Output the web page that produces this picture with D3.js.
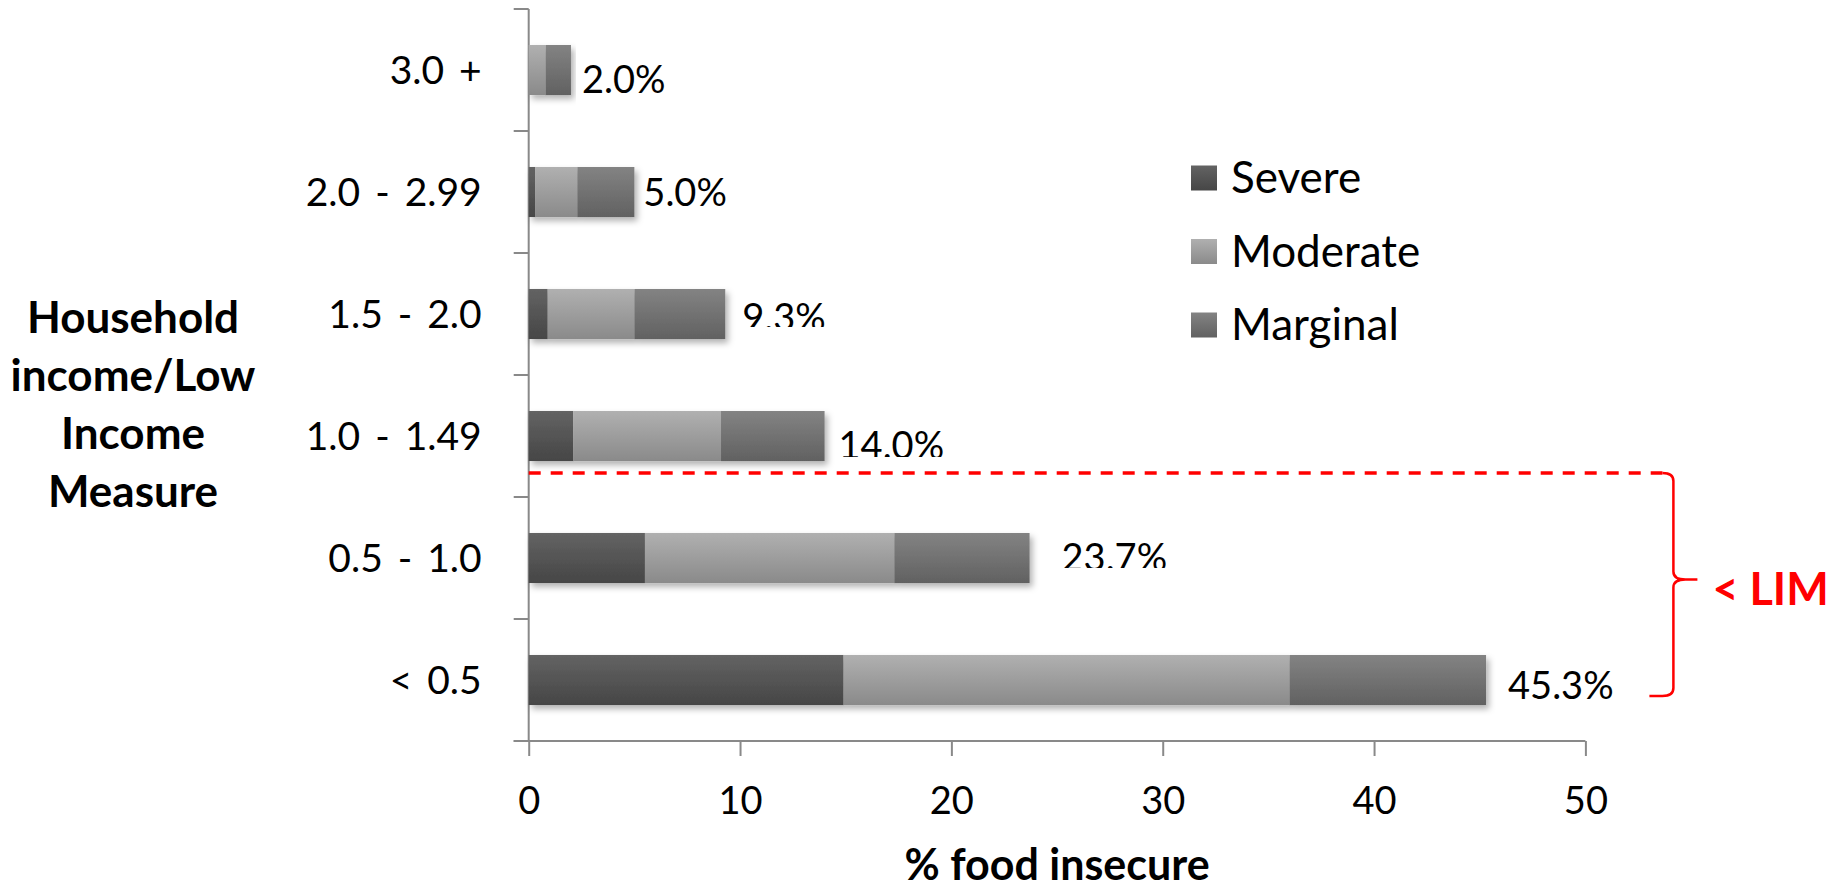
<!DOCTYPE html>
<html>
<head>
<meta charset="utf-8">
<script src="https://cdn.jsdelivr.net/npm/d3@7/dist/d3.min.js"></script>
<style>
  html, body { margin: 0; padding: 0; background: #fff; }
  svg { display: block; font-family: Lato, "Open Sans", sans-serif; }
</style>
</head>
<body>
<svg id="chart" width="1839" height="889"></svg>
<script>
// Household income relative to the Low Income Measure (top to bottom)
const categories = ["3.0 +", "2.0 - 2.99", "1.5 - 2.0", "1.0 - 1.49", "0.5 - 1.0", "< 0.5"];
const seriesNames = ["Severe", "Moderate", "Marginal"];
// % of households in each food-insecurity level
const severe   = [0.0, 0.3, 0.9, 2.1, 5.5, 14.9];
const moderate = [0.8, 2.0, 4.1, 7.0, 11.8, 21.1];
const marginal = [1.2, 2.7, 4.3, 4.9, 6.4, 9.3];
// total % food insecure, printed next to each bar
const totals = [2.0, 5.0, 9.3, 14.0, 23.7, 45.3];
const xTicks = [0, 10, 20, 30, 40, 50];

const svg = d3.select("#chart");
const axisColor = "#898989";

const x = d3.scaleLinear().domain([0, 50]).range([528.7, 1585.4]);
const y = d3.scaleBand().domain(categories).range([9, 741])
  .paddingInner(0.59).paddingOuter(0.295);

const rows = categories.map((c, i) => ({
  cat: c, Severe: severe[i], Moderate: moderate[i], Marginal: marginal[i], total: totals[i]
}));
const stacked = d3.stack().keys(seriesNames)(rows);

// gradient fills (light on top, darker at the bottom)
const defs = svg.append("defs");
const grad = {
  Severe:   ["#636363", "#464646"],
  Moderate: ["#b0b0b0", "#8a8a8a"],
  Marginal: ["#838383", "#616161"]
};
seriesNames.forEach(k => {
  const g = defs.append("linearGradient").attr("id", "g-" + k)
    .attr("x1", 0).attr("y1", 0).attr("x2", 0).attr("y2", 1);
  g.append("stop").attr("offset", "0%").attr("stop-color", grad[k][0]);
  g.append("stop").attr("offset", "100%").attr("stop-color", grad[k][1]);
});
const shadow = defs.append("filter").attr("id", "shadow")
  .attr("x", "-5%").attr("y", "-20%").attr("width", "115%").attr("height", "160%");
shadow.append("feDropShadow").attr("dx", 3).attr("dy", 4).attr("stdDeviation", 3)
  .attr("flood-color", "#000").attr("flood-opacity", 0.3);

// axes
const plotLeft = x.range()[0], plotRight = x.range()[1];
const plotTop = y.range()[0], plotBottom = y.range()[1];
const tickLen = 15;

// x axis
const xAxis = d3.axisBottom(x).tickValues(xTicks).tickSize(tickLen).tickPadding(31)
  .tickFormat(d3.format("d"));
const xg = svg.append("g").attr("transform", `translate(0,${plotBottom})`).call(xAxis);
xg.select(".domain").remove();
xg.selectAll(".tick line").attr("stroke", axisColor).attr("stroke-width", 2);
xg.selectAll(".tick text").attr("fill", "#000").style("font-size", "38px")
  .style("font-family", "Lato");
svg.append("line").attr("x1", plotLeft - tickLen).attr("x2", plotRight)
  .attr("y1", plotBottom).attr("y2", plotBottom)
  .attr("stroke", axisColor).attr("stroke-width", 2);

// y axis: category labels plus tick marks between categories
const yAxis = d3.axisLeft(y).tickSize(0).tickPadding(47);
const yg = svg.append("g").attr("transform", `translate(${plotLeft},0)`).call(yAxis);
yg.select(".domain").remove();
yg.selectAll(".tick text").attr("fill", "#000").style("font-size", "39px")
  .style("font-family", "Lato").style("word-spacing", "5px").attr("dy", "0.36em");
svg.append("line").attr("x1", plotLeft).attr("x2", plotLeft)
  .attr("y1", plotTop).attr("y2", plotBottom)
  .attr("stroke", axisColor).attr("stroke-width", 2);
const bounds = d3.range(categories.length + 1).map(i => plotTop + i * y.step());
svg.append("g").selectAll("line").data(bounds).join("line")
  .attr("x1", plotLeft - tickLen).attr("x2", plotLeft)
  .attr("y1", d => d).attr("y2", d => d)
  .attr("stroke", axisColor).attr("stroke-width", 2);

// stacked bars
const barRows = svg.append("g").selectAll("g.row").data(rows).join("g")
  .attr("class", "row").attr("filter", "url(#shadow)");
barRows.each(function(r, i) {
  const g = d3.select(this);
  stacked.forEach(s => {
    const seg = s[i];
    if (seg[1] - seg[0] <= 0) return;
    g.append("rect")
      .attr("x", x(seg[0])).attr("y", y(r.cat))
      .attr("width", x(seg[1]) - x(seg[0])).attr("height", y.bandwidth())
      .attr("fill", `url(#g-${s.key})`);
  });
});

// total labels
const labelSize = 38;
const capH = labelSize * 0.716;
const labelDx = [11, 9, 17, 14, 32, 22];
const labelTop = [21, 12, 15, 21, 11, 17];
const labelVisible = [null, null, 23, 25, 24, null];
const fmt = d => d3.format(".1f")(d) + "%";
rows.forEach((r, i) => {
  const lx = x(r.total) + labelDx[i];
  const top = y(r.cat) + labelTop[i];
  const t = svg.append("text")
    .attr("x", lx).attr("y", top + capH)
    .style("font-size", labelSize + "px").attr("fill", "#000")
    .text(fmt(r.total));
  if (labelVisible[i] != null) {
    const id = "clip-" + i;
    defs.append("clipPath").attr("id", id).append("rect")
      .attr("x", lx - 5).attr("y", top - 20)
      .attr("width", 200).attr("height", 20 + labelVisible[i]);
    t.attr("clip-path", `url(#${id})`);
  }
});

// legend
const legend = svg.append("g").attr("transform", "translate(1191,0)");
const legendY = [178, 251.5, 325];
seriesNames.forEach((k, i) => {
  legend.append("rect").attr("x", 0).attr("y", legendY[i] - 12.5)
    .attr("width", 26).attr("height", 25).attr("fill", `url(#g-${k})`);
  legend.append("text").attr("x", 40).attr("y", legendY[i] + 15)
    .style("font-size", "44px").attr("fill", "#000").text(k);
});

// axis titles
const yTitle = svg.append("text").attr("text-anchor", "middle")
  .style("font-size", "44px").style("font-weight", "bold").attr("fill", "#000");
["Household", "income/Low", "Income", "Measure"].forEach((line, i) => {
  yTitle.append("tspan").attr("x", 133).attr("y", 333 + i * 58).text(line);
});
svg.append("text").attr("x", (plotLeft + plotRight) / 2).attr("y", 880)
  .attr("text-anchor", "middle").style("font-size", "43px").style("font-weight", "bold")
  .attr("fill", "#000").text("% food insecure");

// < LIM annotation: dashed divider under the 1.0 - 1.49 bar and a brace over the two lowest rows
const red = "#ff0000";
const lineY = y("1.0 - 1.49") + y.bandwidth() + 12;
const braceX = plotRight + 88;
const braceBottom = y("< 0.5") + y.bandwidth() - 9;
const braceMid = (lineY + braceBottom) / 2 - 5;
svg.append("line").attr("x1", plotLeft).attr("x2", braceX - 11)
  .attr("y1", lineY).attr("y2", lineY)
  .attr("stroke", red).attr("stroke-width", 3.5).attr("stroke-dasharray", "12,10");
const p = d3.path();
p.moveTo(braceX - 11, lineY);
p.quadraticCurveTo(braceX, lineY, braceX, lineY + 8);
p.lineTo(braceX, braceMid - 8);
p.quadraticCurveTo(braceX, braceMid, braceX + 12, braceMid);
p.lineTo(braceX + 24, braceMid);
p.moveTo(braceX + 12, braceMid);
p.quadraticCurveTo(braceX, braceMid, braceX, braceMid + 8);
p.lineTo(braceX, braceBottom - 8);
p.quadraticCurveTo(braceX, braceBottom, braceX - 11, braceBottom);
p.lineTo(braceX - 24, braceBottom);
svg.append("path").attr("d", p.toString()).attr("fill", "none")
  .attr("stroke", red).attr("stroke-width", 2.5);
svg.append("text").attr("x", braceX + 39).attr("y", braceMid + 25)
  .style("font-size", "45px").style("font-weight", "bold").attr("fill", red)
  .text("< LIM");
</script>
</body>
</html>
